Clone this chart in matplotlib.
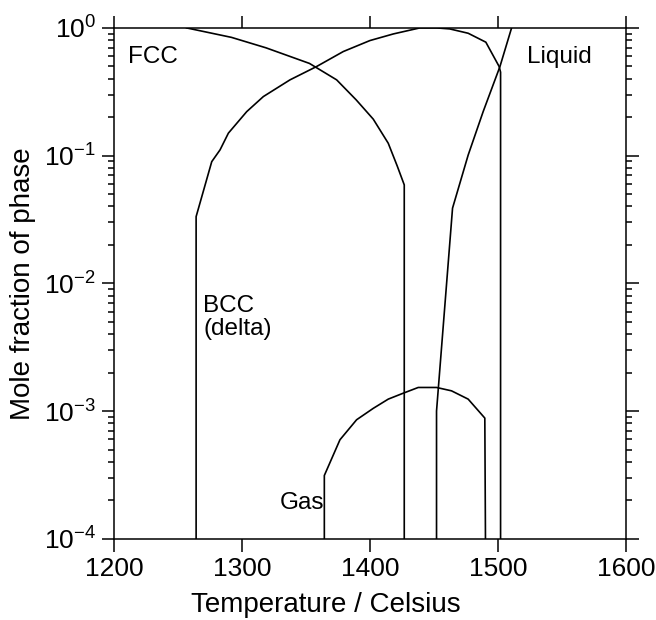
import matplotlib
matplotlib.use("Agg")
import matplotlib.pyplot as plt
from matplotlib.ticker import LogLocator, NullFormatter

plt.rcParams['font.family'] = ['Liberation Sans', 'DejaVu Sans']
plt.rcParams['mathtext.fontset'] = 'custom'
plt.rcParams['mathtext.rm'] = 'Liberation Sans'
plt.rcParams['mathtext.default'] = 'regular'
plt.rcParams['axes.unicode_minus'] = False

# phase fractions (temperature in C, mole fraction)
fcc_t = [1256.5, 1291.6, 1318.6, 1352.5, 1373.7, 1389.0, 1402.3, 1414.0, 1421.0, 1426.5, 1426.5]
fcc_y = [1.0, 0.843, 0.698, 0.527, 0.392, 0.273, 0.193, 0.125, 0.083, 0.059, 1e-4]

bcc_t = [1264.0, 1264.0, 1276.2, 1282.7, 1289.2, 1303.5, 1316.5, 1337.3, 1358.0, 1378.9,
         1399.7, 1418.0, 1438.7, 1451.7, 1462.0, 1476.4, 1490.2, 1500.6, 1501.7, 1501.7]
bcc_y = [1e-4, 0.0333, 0.0897, 0.111, 0.150, 0.221, 0.290, 0.392, 0.498, 0.653,
         0.796, 0.897, 1.0, 1.0, 0.982, 0.908, 0.773, 0.498, 0.450, 1e-4]

liq_t = [1451.7, 1451.7, 1464.2, 1476.4, 1488.1, 1501.2, 1510.3]
liq_y = [1e-4, 1e-3, 0.0388, 0.101, 0.221, 0.498, 1.0]

gas_t = [1364.1, 1364.1, 1376.3, 1389.3, 1402.3, 1414.0, 1425.7, 1437.4, 1451.7,
         1463.4, 1476.4, 1489.4, 1489.9]
gas_y = [1e-4, 3.13e-4, 5.96e-4, 8.55e-4, 1.05e-3, 1.24e-3, 1.38e-3, 1.53e-3, 1.53e-3,
         1.44e-3, 1.24e-3, 8.81e-4, 1e-4]

labels = ["FCC", "Liquid", "BCC\n(delta)", "Gas"]
label_t = [1211, 1522, 1269.5, 1329.5]
label_y = [0.59, 0.59, 0.0054, 1.9e-4]

fig = plt.figure(figsize=(6.56, 6.2), dpi=100)
ax = fig.add_axes([0.174, 0.131, 0.781, 0.824])

for t, y in [(fcc_t, fcc_y), (bcc_t, bcc_y), (liq_t, liq_y), (gas_t, gas_y)]:
    ax.plot(t, y, color='black', lw=1.2)

for s, t, y in zip(labels, label_t, label_y):
    ax.text(t, y, s, fontsize=17.5, ha='left', va='center', linespacing=1.1)

ax.set_yscale('log')
ax.set_xlim(1200, 1600)
ax.set_ylim(1e-4, 1)
ax.set_xticks([1200, 1300, 1400, 1500, 1600])
ax.yaxis.set_major_locator(LogLocator(base=10, numticks=10))
ax.yaxis.set_minor_locator(LogLocator(base=10, subs=range(2, 10), numticks=10))
ax.yaxis.set_minor_formatter(NullFormatter())

ax.tick_params(which='major', direction='out', length=9, width=1.1,
               top=True, right=True, labelsize=19, pad=4)
ax.tick_params(which='minor', direction='out', length=4.5, width=1.1,
               left=True, right=True)
for sp in ax.spines.values():
    sp.set_linewidth(1.1)

ax.set_xlabel("Temperature / Celsius", fontsize=20)
ax.xaxis.set_label_coords(0.413, -0.104)
ax.set_ylabel("Mole fraction of phase", fontsize=20, labelpad=6)

fig.savefig("out.png", dpi=100)
